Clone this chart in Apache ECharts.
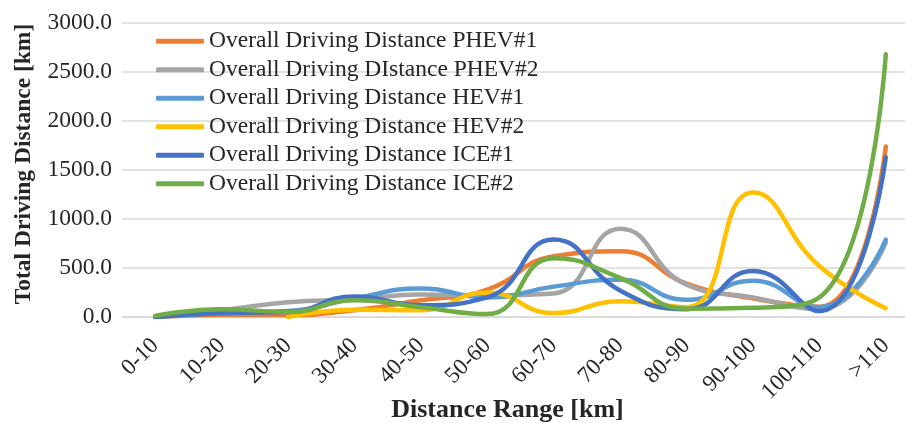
<!DOCTYPE html>
<html>
<head>
<meta charset="utf-8">
<script src="https://cdn.jsdelivr.net/npm/echarts@6/dist/echarts.min.js"></script>
<style>
html,body{margin:0;padding:0;background:#fff;}
#chart{width:905px;height:423px;}
</style>
</head>
<body>
<div id="chart"></div>
<script>
var categories = ['0-10','10-20','20-30','30-40','40-50','50-60','60-70','70-80','80-90','90-100','100-110','>110'];
var seriesNames = [
  'Overall Driving Distance PHEV#1',
  'Overall Driving DIstance PHEV#2',
  'Overall Driving Distance HEV#1',
  'Overall Driving Distance HEV#2',
  'Overall Driving Distance ICE#1',
  'Overall Driving Distance ICE#2'
];
var phev1 = [0, 20, 20, 70, 170, 280, 620, 670, 340, 190, 105, 1740];
var phev2 = [10, 70, 150, 180, 230, 220, 240, 900, 330, 200, 80, 760];
var hev1  = [0, 40, 60, 190, 290, 200, 310, 380, 175, 370, 100, 790];
var hev2  = [null, null, 0, 75, 70, 250, 40, 160, 100, 1270, 520, 90];
var ice1  = [0, 40, 50, 210, 120, 200, 790, 270, 80, 470, 60, 1630];
var ice2  = [10, 80, 50, 170, 100, 30, 600, 400, 85, 95, 200, 2680];
var yTicks = {min: 0, max: 3000, interval: 500};

var colors = ['#ED7D31', '#A5A5A5', '#5B9BD5', '#FFC000', '#4472C4', '#70AD47'];
var dataSets = [phev1, phev2, hev1, hev2, ice1, ice2];
var serif = '"Liberation Serif", "DejaVu Serif", serif';

var chart = echarts.init(document.getElementById('chart'));
chart.setOption({
  animation: false,
  color: colors,
  grid: {left: 122, top: 23, width: 797, height: 294, containLabel: false, outerBoundsMode: 'none'},
  legend: {
    orient: 'vertical',
    left: 156,
    top: 27,
    padding: 0,
    itemGap: 0,
    itemWidth: 48,
    itemHeight: 5,
    icon: 'roundRect',
    textStyle: {fontFamily: serif, fontSize: 23.5, color: '#262626', lineHeight: 28.5},
    data: seriesNames
  },
  xAxis: {
    type: 'category',
    data: categories,
    boundaryGap: true,
    axisLine: {show: true, lineStyle: {color: '#d9d9d9', width: 1.5}},
    axisTick: {show: false},
    axisLabel: {rotate: 45, margin: 25, fontFamily: serif, fontSize: 23, color: '#262626', interval: 0},
    name: 'Distance Range [km]',
    nameLocation: 'middle',
    nameGap: 80,
    nameMoveOverlap: false,
    nameTextStyle: {fontFamily: serif, fontSize: 26, fontWeight: 'bold', color: '#262626', padding: [0, 26, 0, 0]}
  },
  yAxis: {
    type: 'value',
    min: yTicks.min,
    max: yTicks.max,
    interval: yTicks.interval,
    axisLine: {show: false},
    axisTick: {show: false},
    splitLine: {lineStyle: {color: '#d9d9d9', width: 1.5}},
    axisLabel: {margin: 10, fontFamily: serif, fontSize: 23.5, color: '#262626', formatter: function (v) { return v.toFixed(1); }},
    name: 'Total Driving Distance [km]',
    nameLocation: 'middle',
    nameGap: 86,
    nameMoveOverlap: false,
    nameTextStyle: {fontFamily: serif, fontSize: 23.5, fontWeight: 'bold', color: '#262626', padding: [0, 0, 0, 12]}
  },
  series: seriesNames.map(function (n, i) {
    return {
      name: n,
      type: 'line',
      data: dataSets[i],
      smooth: 0.5,
      symbol: 'none',
      showSymbol: false,
      connectNulls: false,
      lineStyle: {width: 4.5, color: colors[i], cap: 'round', join: 'round'}
    };
  })
});
</script>
</body>
</html>
